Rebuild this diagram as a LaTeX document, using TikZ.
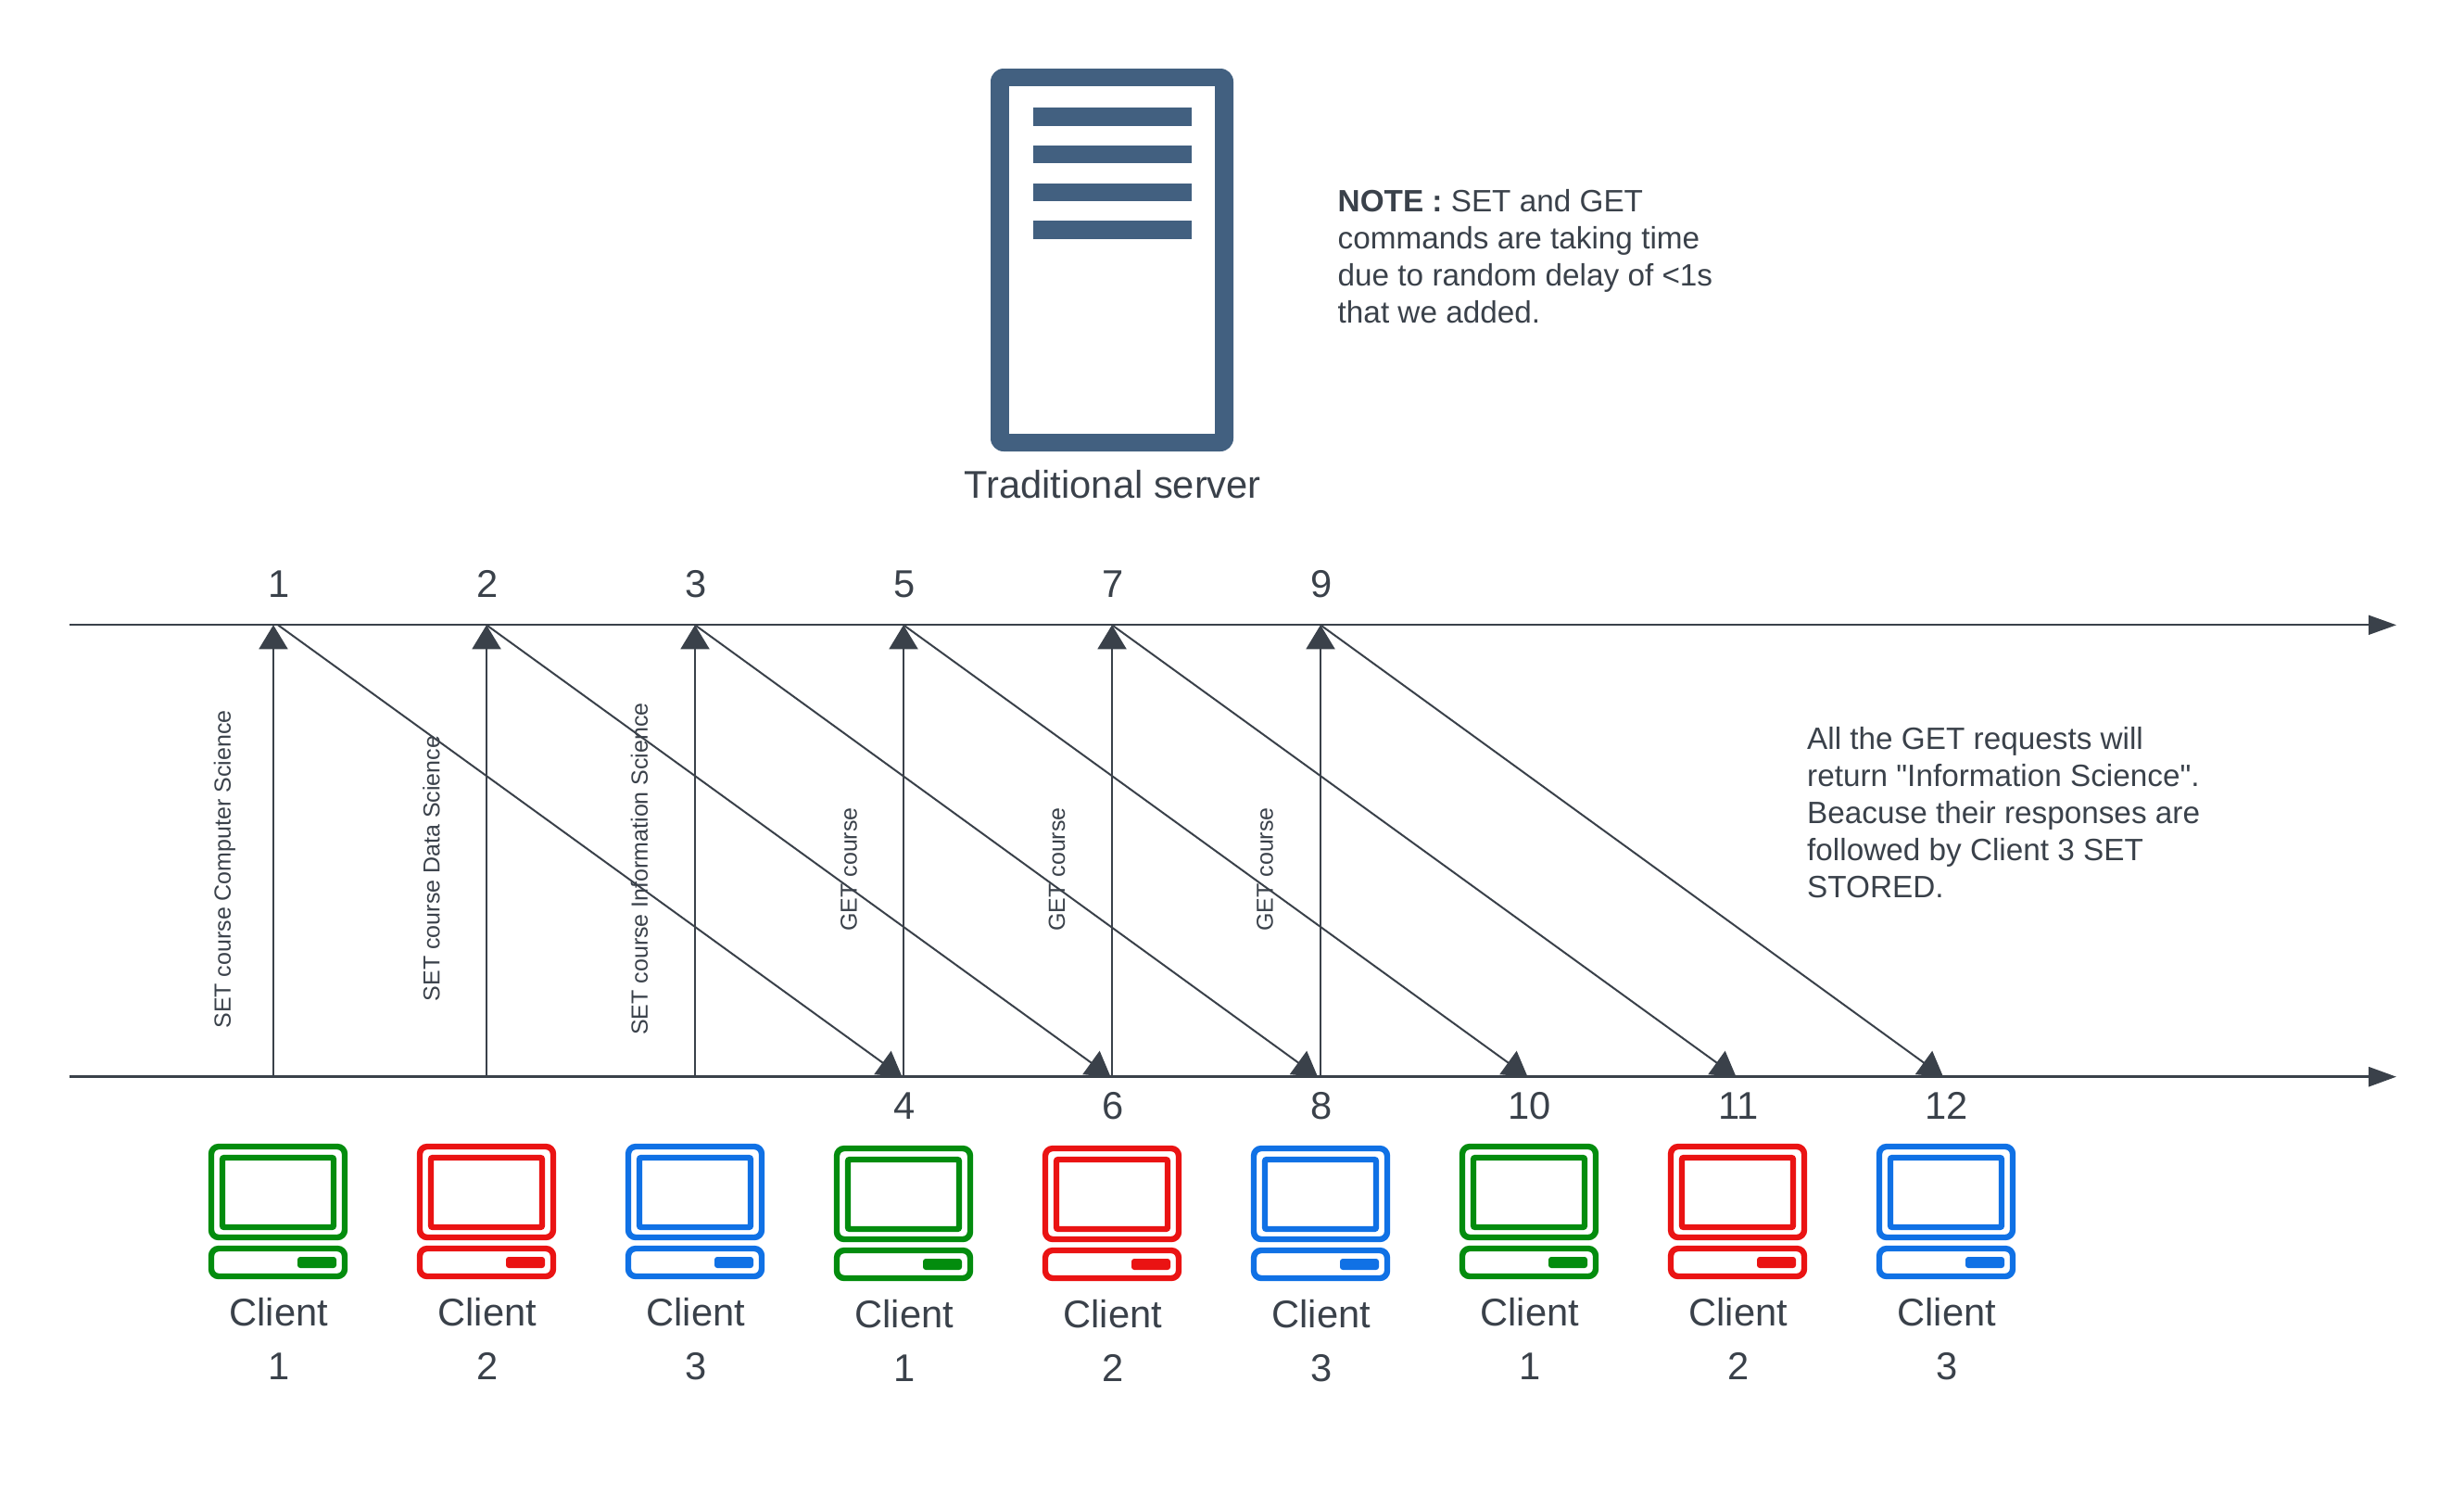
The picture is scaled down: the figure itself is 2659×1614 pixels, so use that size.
\documentclass[tikz,border=0pt]{standalone}
\usepackage{fontspec}
\setmainfont{Liberation Sans}
\newfontfamily\rawfont{Liberation Sans}
\usetikzlibrary{arrows.meta}
\definecolor{ink}{HTML}{3A414A}
\definecolor{srv}{HTML}{426080}
\definecolor{cgreen}{HTML}{038C0E}
\definecolor{cred}{HTML}{EA1313}
\definecolor{cblue}{HTML}{1071E5}
\tikzset{
  big/.style={font=\fontsize{41.67}{41.67}\selectfont,text=ink,inner sep=0pt,anchor=base},
  para/.style={font=\fontsize{33.3}{40}\selectfont,text=ink,inner sep=0pt,anchor=north west,align=left},
  vlabel/.style={font=\fontsize{25}{30}\selectfont,text=ink,inner sep=0pt,rotate=90},
  axis top/.style={draw=ink,line width=1.7pt,-{Triangle[length=30pt,width=21pt]}},
  axis bottom/.style={draw=ink,line width=2.7pt,-{Triangle[length=30pt,width=21pt]}},
  msg/.style={draw=ink,line width=2pt,-{Triangle[length=26pt,width=31pt]}},
  ico/.style={line width=6.4pt,rounded corners=8pt},
}
\newcommand{\clienticon}[4]{% name, centre x, y offset, colour
  \begin{scope}[shift={(#2,#3)}]
    \draw[ico,draw=#4] (-72,1237) rectangle (72,1335);
    \draw[ico,draw=#4,rounded corners=2pt] (-60,1249) rectangle (60,1324);
    \draw[ico,draw=#4] (-72,1347) rectangle (72,1377);
    \fill[#4,rounded corners=3pt] (21,1356) rectangle (63,1368);
    \node[big] (#1a) at (0.7,1430) {Client};
    \node[big] (#1b) at (0.7,1488) {#1};
  \end{scope}
}
\begin{document}
\begin{tikzpicture}[x=1pt,y=-1pt]
\useasboundingbox (0,0) rectangle (2659,1614);
% server
\fill[srv,rounded corners=14pt] (1069,74) rectangle (1331,487);
\fill[white] (1089,93) rectangle (1311,468);
\foreach \a/\b in {116/136,157/176,198/217,238/258}
  \fill[srv] (1114.5,\a) rectangle (1286,\b);
\node[big] (server) at (1200.7,537) {Traditional server};
% notes
\node[para] (note) at (1443.5,203.9) {\textbf{NOTE :} SET and GET\\commands are taking time\\due to random delay of <1s\\that we added.};
\node[para] (result) at (1950,783.8) {All the GET requests will\\return {\rawfont"}Information Science{\rawfont"}.\\Beacuse their responses are\\followed by Client 3 SET\\STORED.};
% axes
\coordinate (ts) at (75,674.3);
\coordinate (te) at (2586,674.3);
\coordinate (bs) at (75,1161.7);
\coordinate (be) at (2586,1161.7);
\draw[axis top] (ts) -- (te);
\draw[axis bottom] (bs) -- (be);
% axis points
\coordinate (u1) at (295,1161.7); \coordinate (v1) at (295,674.3); \coordinate (w1) at (300,674.3);
\coordinate (u2) at (525,1161.7); \coordinate (v2) at (525,674.3); \coordinate (w2) at (525,674.3);
\coordinate (u3) at (750,1161.7); \coordinate (v3) at (750,674.3); \coordinate (w3) at (750,674.3);
\coordinate (u4) at (975,1161.7); \coordinate (v4) at (975,674.3); \coordinate (w4) at (975,674.3);
\coordinate (u5) at (1200,1161.7); \coordinate (v5) at (1200,674.3); \coordinate (w5) at (1200,674.3);
\coordinate (u6) at (1425,1161.7); \coordinate (v6) at (1425,674.3); \coordinate (w6) at (1425,674.3);
\coordinate (d1) at (973.5,1161.7);
\coordinate (d2) at (1198.5,1161.7);
\coordinate (d3) at (1422,1161.7);
\coordinate (d4) at (1648.5,1161.7);
\coordinate (d5) at (1873.5,1161.7);
\coordinate (d6) at (2097,1161.7);
\foreach \i in {1,...,6} {
  \draw[msg] (u\i) -- (v\i);
  \draw[msg] (w\i) -- (d\i);
}
% step numbers
\node[big] (n1) at (300.7,644) {1};
\node[big] (n2) at (525.7,644) {2};
\node[big] (n3) at (750.7,644) {3};
\node[big] (n5) at (975.7,644) {5};
\node[big] (n7) at (1200.7,644) {7};
\node[big] (n9) at (1425.7,644) {9};
\node[big] (n4) at (975.7,1207) {4};
\node[big] (n6) at (1200.7,1207) {6};
\node[big] (n8) at (1425.7,1207) {8};
\node[big] (n10) at (1650.7,1207) {10};
\node[big] (n11) at (1875.7,1207) {11};
\node[big] (n12) at (2100.7,1207) {12};
% vertical labels
\node[vlabel] (l1) at (242.5,938) {SET course Computer Science};
\node[vlabel] (l2) at (465.5,937) {SET course Data Science};
\node[vlabel] (l3) at (690,937.5) {SET course Information Science};
\node[vlabel] (l4) at (916,938) {GET course};
\node[vlabel] (l5) at (1140.5,938) {GET course};
\node[vlabel] (l6) at (1365,938) {GET course};
% clients
\clienticon{1}{300}{0}{cgreen}
\clienticon{2}{525}{0}{cred}
\clienticon{3}{750}{0}{cblue}
\clienticon{1}{975}{2}{cgreen}
\clienticon{2}{1200}{2}{cred}
\clienticon{3}{1425}{2}{cblue}
\clienticon{1}{1650}{0}{cgreen}
\clienticon{2}{1875}{0}{cred}
\clienticon{3}{2100}{0}{cblue}
\end{tikzpicture}
\end{document}
